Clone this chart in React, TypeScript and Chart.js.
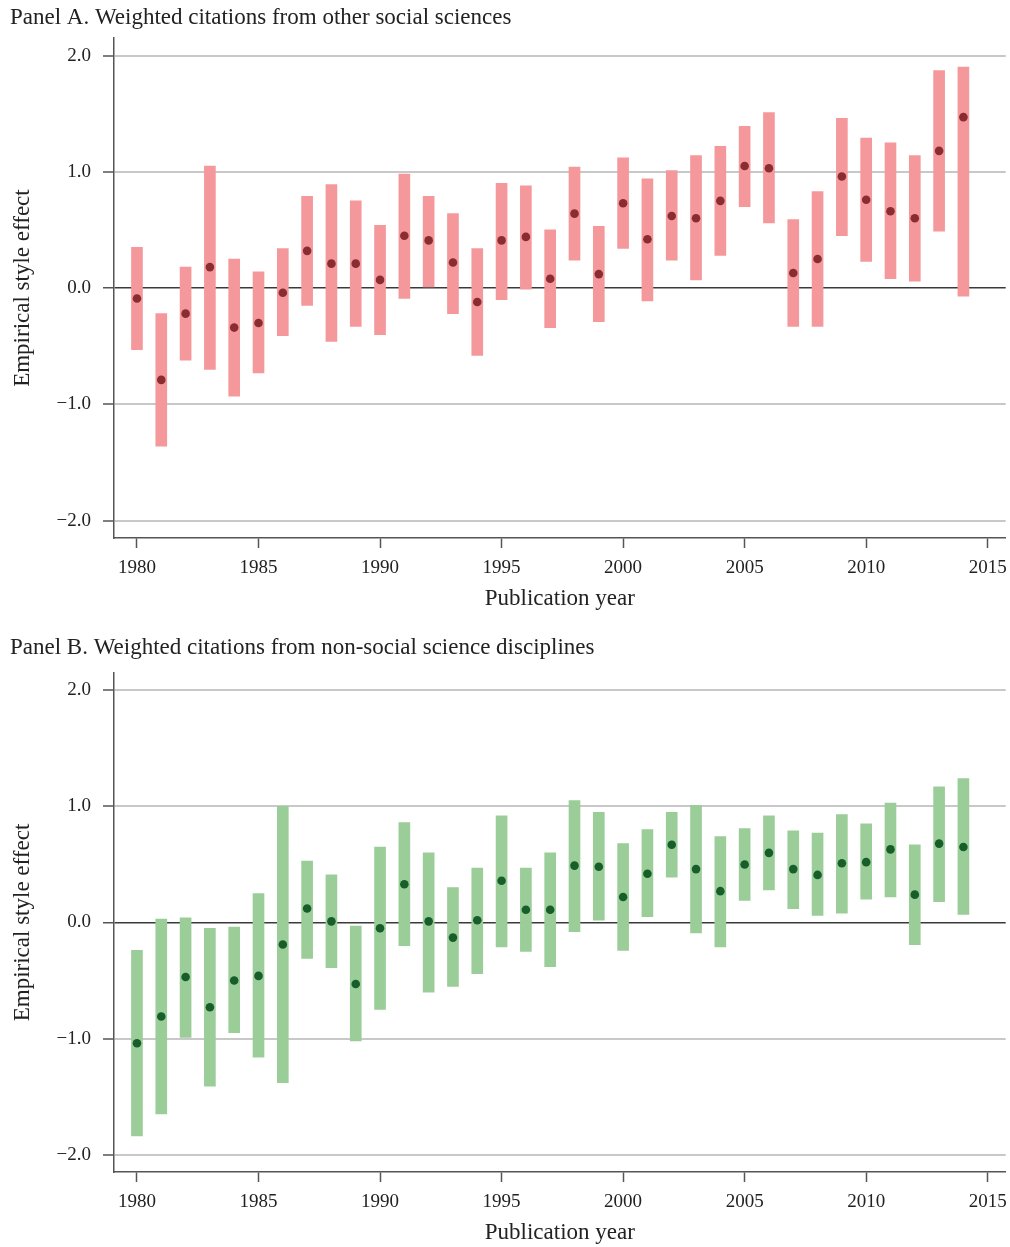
import React, { useEffect, useRef } from "react";
import { Chart, registerables } from "chart.js";

Chart.register(...registerables);

const YEARS = [
  1980, 1981, 1982, 1983, 1984, 1985, 1986, 1987, 1988, 1989,
  1990, 1991, 1992, 1993, 1994, 1995, 1996, 1997, 1998, 1999,
  2000, 2001, 2002, 2003, 2004, 2005, 2006, 2007, 2008, 2009,
  2010, 2011, 2012, 2013, 2014,
];

const X_TICKS = [1980, 1985, 1990, 1995, 2000, 2005, 2010, 2015];
const Y_TICKS = [-2, -1, 0, 1, 2];

// Panel A: weighted citations from other social sciences
const A_EST = [-0.09, -0.79, -0.22, 0.18, -0.34, -0.3, -0.04, 0.32, 0.21, 0.21, 0.07, 0.45, 0.41, 0.22, -0.12, 0.41, 0.44, 0.08, 0.64, 0.12, 0.73, 0.42, 0.62, 0.6, 0.75, 1.05, 1.03, 0.13, 0.25, 0.96, 0.76, 0.66, 0.6, 1.18, 1.47];
const A_LO = [-0.53, -1.36, -0.62, -0.7, -0.93, -0.73, -0.41, -0.15, -0.46, -0.33, -0.4, -0.09, 0.01, -0.22, -0.58, -0.1, -0.01, -0.34, 0.24, -0.29, 0.34, -0.11, 0.24, 0.07, 0.28, 0.7, 0.56, -0.33, -0.33, 0.45, 0.23, 0.08, 0.06, 0.49, -0.07];
const A_HI = [0.35, -0.22, 0.18, 1.05, 0.25, 0.14, 0.34, 0.79, 0.89, 0.75, 0.54, 0.98, 0.79, 0.64, 0.34, 0.9, 0.88, 0.5, 1.04, 0.53, 1.12, 0.94, 1.01, 1.14, 1.22, 1.39, 1.51, 0.59, 0.83, 1.46, 1.29, 1.25, 1.14, 1.87, 1.9];

// Panel B: weighted citations from non-social science disciplines
const B_EST = [-1.04, -0.81, -0.47, -0.73, -0.5, -0.46, -0.19, 0.12, 0.01, -0.53, -0.05, 0.33, 0.01, -0.13, 0.02, 0.36, 0.11, 0.11, 0.49, 0.48, 0.22, 0.42, 0.67, 0.46, 0.27, 0.5, 0.6, 0.46, 0.41, 0.51, 0.52, 0.63, 0.24, 0.68, 0.65];
const B_LO = [-1.84, -1.65, -0.99, -1.41, -0.95, -1.16, -1.38, -0.31, -0.39, -1.02, -0.75, -0.2, -0.6, -0.55, -0.44, -0.21, -0.25, -0.38, -0.08, 0.02, -0.24, 0.05, 0.39, -0.09, -0.21, 0.19, 0.28, 0.12, 0.06, 0.08, 0.2, 0.22, -0.19, 0.18, 0.07];
const B_HI = [-0.24, 0.03, 0.04, -0.05, -0.04, 0.25, 1.0, 0.53, 0.41, -0.03, 0.65, 0.86, 0.6, 0.3, 0.47, 0.92, 0.47, 0.6, 1.05, 0.95, 0.68, 0.8, 0.95, 1.01, 0.74, 0.81, 0.92, 0.79, 0.77, 0.93, 0.85, 1.03, 0.67, 1.17, 1.24];

const TITLE_A = "Panel A. Weighted citations from other social sciences";
const TITLE_B = "Panel B. Weighted citations from non-social science disciplines";
const X_TITLE = "Publication year";
const Y_TITLE = "Empirical style effect";

const FONT = "'Liberation Serif', 'Times New Roman', serif";
const TEXT = "#222222";

type PanelProps = {
  title: string;
  lo: number[];
  hi: number[];
  est: number[];
  barColor: string;
  dotColor: string;
  top: number;
  height: number;
  titlePadTop: number;
  titlePadBottom: number;
};

function Panel(p: PanelProps) {
  const ref = useRef<HTMLCanvasElement>(null);
  useEffect(() => {
    if (!ref.current) return;
    const chart = new Chart(ref.current, {
      type: "bar",
      data: {
        datasets: [
          {
            type: "bar",
            data: YEARS.map((y, i) => ({ x: y, y: [p.lo[i], p.hi[i]] })) as any,
            backgroundColor: p.barColor,
            borderWidth: 0,
            barThickness: 11,
            order: 2,
          } as any,
          {
            type: "scatter",
            data: YEARS.map((y, i) => ({ x: y, y: p.est[i] })),
            backgroundColor: p.dotColor,
            borderColor: p.dotColor,
            borderWidth: 0,
            pointRadius: 4.3,
            order: 1,
          } as any,
        ],
      },
      options: {
        responsive: false,
        animation: false,
        layout: { padding: { left: 10, right: 3, top: 0, bottom: 0 } },
        plugins: {
          legend: { display: false },
          tooltip: { enabled: false },
          title: {
            display: true,
            text: p.title,
            align: "start",
            color: TEXT,
            font: { family: FONT, size: 23, weight: "normal", lineHeight: 1.2 },
            padding: { top: p.titlePadTop, bottom: p.titlePadBottom },
          },
        },
        scales: {
          x: {
            type: "linear",
            min: 1979.055,
            max: 2015.74,
            offset: false,
            afterBuildTicks: (s: any) => {
              s.ticks = X_TICKS.map((v) => ({ value: v }));
            },
            afterFit: (s: any) => {
              s.height = 75;
              s.paddingLeft = 0;
              s.paddingRight = 0;
            },
            grid: {
              offset: false,
              drawOnChartArea: false,
              drawTicks: true,
              tickLength: 10,
              tickColor: "#555555",
              tickWidth: 1.5,
            },
            border: { display: true, color: "#555555", width: 1.5 },
            ticks: {
              color: TEXT,
              font: { family: FONT, size: 19 },
              padding: 9,
              maxRotation: 0,
              autoSkip: false,
              callback: (v: any) => String(v),
            },
            title: {
              display: true,
              text: X_TITLE,
              color: TEXT,
              font: { family: FONT, size: 23, lineHeight: 1.2 },
              padding: { top: 0, bottom: 0 },
            },
          },
          y: {
            type: "linear",
            min: -2.15,
            max: 2.15,
            afterBuildTicks: (s: any) => {
              s.ticks = Y_TICKS.map((v) => ({ value: v }));
            },
            afterFit: (s: any) => {
              s.width = 104;
            },
            grid: {
              color: (c: any) => (c.tick && c.tick.value === 0 ? "#3a3a3a" : "#c8c8c8"),
              lineWidth: (c: any) => (c.tick && c.tick.value === 0 ? 1.5 : 2),
              drawTicks: true,
              tickLength: 11,
              tickColor: "#555555",
              tickWidth: 1.5,
            },
            border: { display: true, color: "#555555", width: 1.5 },
            ticks: {
              color: TEXT,
              font: { family: FONT, size: 19 },
              padding: 12,
              callback: (v: any) => {
                const n = Number(v);
                return n < 0 ? "\u2212" + Math.abs(n).toFixed(1) : n.toFixed(1);
              },
            },
            title: {
              display: true,
              text: Y_TITLE,
              color: TEXT,
              font: { family: FONT, size: 23, lineHeight: 1.0 },
              padding: { top: 1, bottom: 0 },
            },
          },
        },
      } as any,
    });
    return () => chart.destroy();
  }, []);
  return (
    <canvas
      ref={ref}
      width={1010}
      height={p.height}
      style={{ position: "absolute", left: 0, top: p.top, width: 1010, height: p.height }}
    />
  );
}

export default function App() {
  return (
    <div style={{ position: "absolute", left: 0, top: 0, width: 1010, height: 1247, background: "#ffffff" }}>
      <Panel
        title={TITLE_A}
        lo={A_LO}
        hi={A_HI}
        est={A_EST}
        barColor="#f4989b"
        dotColor="#8b2c33"
        top={0}
        height={613}
        titlePadTop={4.5}
        titlePadBottom={6}
      />
      <Panel
        title={TITLE_B}
        lo={B_LO}
        hi={B_HI}
        est={B_EST}
        barColor="#9bcd99"
        dotColor="#175e2b"
        top={614}
        height={633}
        titlePadTop={20}
        titlePadBottom={11.4}
      />
    </div>
  );
}
